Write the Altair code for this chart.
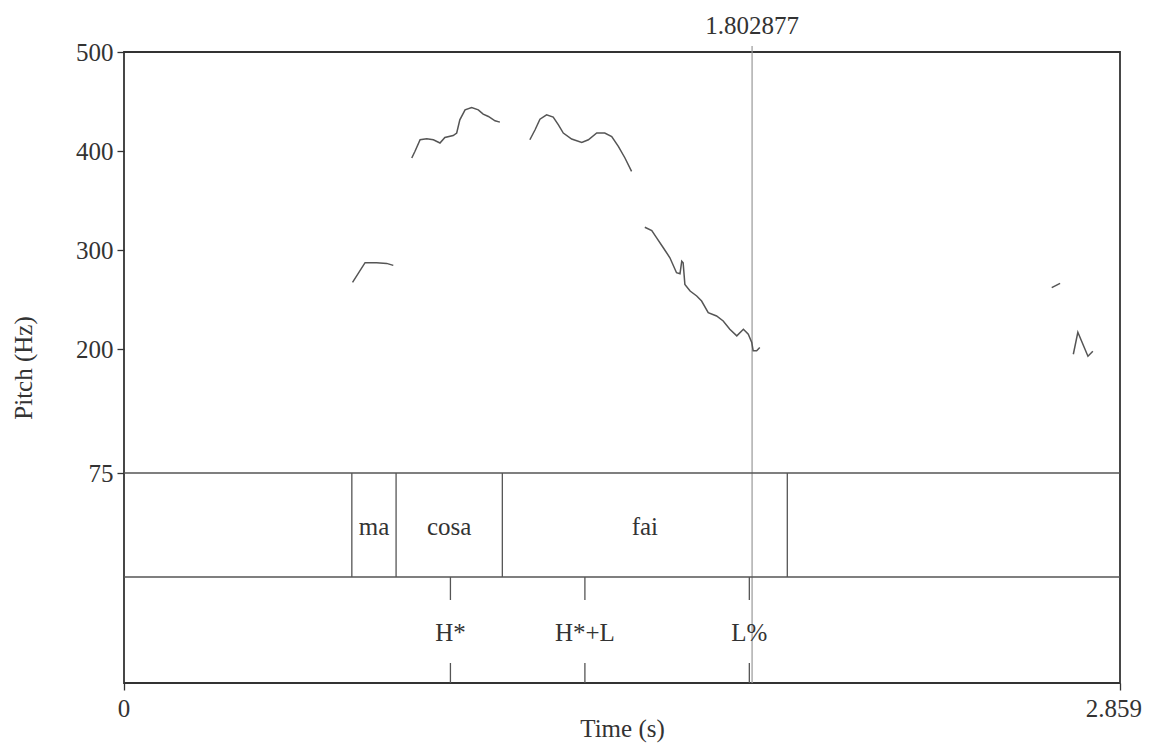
import altair as alt
import pandas as pd

# ---- pitch contour (time s, pitch Hz), one list per voiced stretch ----
seg1_t = [0.656, 0.692, 0.725, 0.754, 0.773]
seg1_f = [267.4, 287.3, 287.3, 286.6, 284.6]

seg2_t = [0.826, 0.835, 0.850, 0.869, 0.888, 0.907, 0.921, 0.945, 0.955, 0.964,
          0.979, 0.998, 1.017, 1.031, 1.046, 1.065, 1.079]
seg2_f = [393.0, 399.6, 411.4, 412.4, 411.4, 408.1, 413.7, 415.7, 418.2, 431.5,
          441.6, 443.9, 441.6, 437.3, 434.9, 430.5, 429.2]

seg3_t = [1.165, 1.180, 1.194, 1.213, 1.232, 1.247, 1.261, 1.285, 1.314, 1.333,
          1.357, 1.380, 1.400, 1.419, 1.438, 1.457]
seg3_f = [411.4, 421.5, 432.2, 436.6, 434.3, 426.5, 418.2, 412.1, 408.7, 411.4,
          418.2, 418.2, 414.7, 404.7, 393.0, 379.5]

seg4_t = [1.495, 1.515, 1.529, 1.548, 1.567, 1.586, 1.596, 1.601, 1.605, 1.610,
          1.625, 1.644, 1.658, 1.677, 1.701, 1.720, 1.739, 1.759, 1.778, 1.792,
          1.802, 1.806, 1.816, 1.825]
seg4_f = [323.1, 319.8, 312.4, 302.4, 292.3, 277.2, 276.2, 288.9, 287.3, 265.4,
          258.7, 253.7, 248.6, 236.9, 233.5, 228.5, 220.1, 213.4, 220.1, 215.1,
          206.7, 198.3, 198.3, 201.7]

seg5_t = [2.663, 2.687]
seg5_f = [262.1, 266.4]

seg6_t = [2.725, 2.738, 2.767, 2.781]
seg6_f = [194.9, 217.1, 192.9, 197.9]

# ---- tier 1 (interval tier) ----
word_bounds = [0.654, 0.781, 1.086, 1.904]
word_starts = [0.654, 0.781, 1.086]
word_ends = [0.781, 1.086, 1.904]
word_labels = ["ma", "cosa", "fai"]

# ---- tier 2 (point tier) ----
tone_times = [0.937, 1.323, 1.795]
tone_labels = ["H*", "H*+L", "L%"]

# ---- cursor & axes ----
cursor_time = [1.802877]
cursor_label = ["1.802877"]
t_min, t_max = 0.0, 2.859
y_ticks = [500, 400, 300, 200, 75]
x_ticks = [0, 2.859]
x_start_label = ["0"]
x_end_label = ["2.859"]

rows = []
for sid, (ts, fs) in enumerate([(seg1_t, seg1_f), (seg2_t, seg2_f), (seg3_t, seg3_f),
                                (seg4_t, seg4_f), (seg5_t, seg5_f), (seg6_t, seg6_f)]):
    for t, f in zip(ts, fs):
        rows.append({"t": t, "f": f, "seg": sid})
pitch_df = pd.DataFrame(rows)

bounds_df = pd.DataFrame({"t": word_bounds})
words_df = pd.DataFrame({"start": word_starts, "end": word_ends, "label": word_labels})
tones_df = pd.DataFrame({"t": tone_times, "label": tone_labels})
cursor_df = pd.DataFrame({"t": cursor_time, "label": cursor_label})
xstart_df = pd.DataFrame({"t": [t_min], "label": x_start_label})
xend_df = pd.DataFrame({"t": [t_max], "label": x_end_label})

W, H = 996, 631
PITCH_H = 421      # pixel height of pitch area (500 Hz -> 75 Hz)
TIER1_B = 525      # bottom of tier 1 in pixels
FONT = "Liberation Serif"
FS = 25
INK = "#333333"

xscale = alt.Scale(domain=[t_min, t_max], nice=False, zero=False)
ybottom = 500 - H * (500 - 75) / PITCH_H
yscale = alt.Scale(domain=[ybottom, 500], nice=False, zero=False)

xaxis = alt.Axis(values=x_ticks, title="Time (s)", grid=False, domain=False,
                 tickSize=7, tickColor=INK, labels=False,
                 titleY=45, titleBaseline="middle")
yaxis = alt.Axis(values=y_ticks, title="Pitch (Hz)", grid=False, domain=False,
                 tickSize=7, tickColor=INK, labelPadding=4, format="d",
                 titleX=-101, titleY=H / 2, titleBaseline="middle")

pitch = alt.Chart(pitch_df).mark_line(color="#555555", strokeWidth=1.5).encode(
    x=alt.X("t:Q", scale=xscale, axis=xaxis),
    y=alt.Y("f:Q", scale=yscale, axis=yaxis),
    detail="seg:N",
)

base_any = alt.Chart(cursor_df)

hline1 = base_any.mark_rule(color="#555555", strokeWidth=1.3).encode(
    x=alt.value(0), x2=alt.value(W), y=alt.value(PITCH_H))
hline2 = base_any.mark_rule(color="#555555", strokeWidth=1.3).encode(
    x=alt.value(0), x2=alt.value(W), y=alt.value(TIER1_B))

bounds = alt.Chart(bounds_df).mark_rule(color="#555555", strokeWidth=1.3).encode(
    x=alt.X("t:Q", scale=xscale), y=alt.value(PITCH_H), y2=alt.value(TIER1_B))

words = alt.Chart(words_df).transform_calculate(
    mid="(datum.start + datum.end) / 2"
).mark_text(font=FONT, fontSize=FS, color=INK, baseline="middle").encode(
    x=alt.X("mid:Q", scale=xscale), y=alt.value(475), text="label:N")

tone_top = alt.Chart(tones_df).mark_rule(color="#555555", strokeWidth=1.3).encode(
    x=alt.X("t:Q", scale=xscale), y=alt.value(TIER1_B), y2=alt.value(548))
tone_bot = alt.Chart(tones_df).mark_rule(color="#555555", strokeWidth=1.3).encode(
    x=alt.X("t:Q", scale=xscale), y=alt.value(611), y2=alt.value(H))
tones = alt.Chart(tones_df).mark_text(font=FONT, fontSize=FS, color=INK,
                                      baseline="middle").encode(
    x=alt.X("t:Q", scale=xscale), y=alt.value(581), text="label:N")

cursor = alt.Chart(cursor_df).mark_rule(color="#999999", strokeWidth=1.2).encode(
    x=alt.X("t:Q", scale=xscale), y=alt.value(-6), y2=alt.value(H))
cursor_txt = alt.Chart(cursor_df).mark_text(font=FONT, fontSize=FS, color=INK,
                                            baseline="middle").encode(
    x=alt.X("t:Q", scale=xscale), y=alt.value(-26), text="label:N")

xlab0 = alt.Chart(xstart_df).mark_text(font=FONT, fontSize=FS, color=INK,
                                       baseline="middle", align="center").encode(
    x=alt.X("t:Q", scale=xscale), y=alt.value(H + 26), text="label:N")
xlab1 = alt.Chart(xend_df).mark_text(font=FONT, fontSize=FS, color=INK,
                                     baseline="middle", align="right", dx=22).encode(
    x=alt.X("t:Q", scale=xscale), y=alt.value(H + 26), text="label:N")

chart = alt.layer(
    cursor, hline1, hline2, bounds, tone_top, tone_bot, pitch, words, tones,
    cursor_txt, xlab0, xlab1
).properties(
    width=W, height=H,
    autosize="none",
    padding={"left": 116, "top": 44, "right": 23, "bottom": 60},
    background="white",
).configure_view(
    stroke=INK, strokeWidth=1.8
).configure_axis(
    labelFont=FONT, titleFont=FONT, labelFontSize=FS, titleFontSize=FS,
    labelColor=INK, titleColor=INK, titleFontWeight="normal", tickWidth=1.3,
)

chart.save("out.html", embed_options={"renderer": "svg", "actions": False})
